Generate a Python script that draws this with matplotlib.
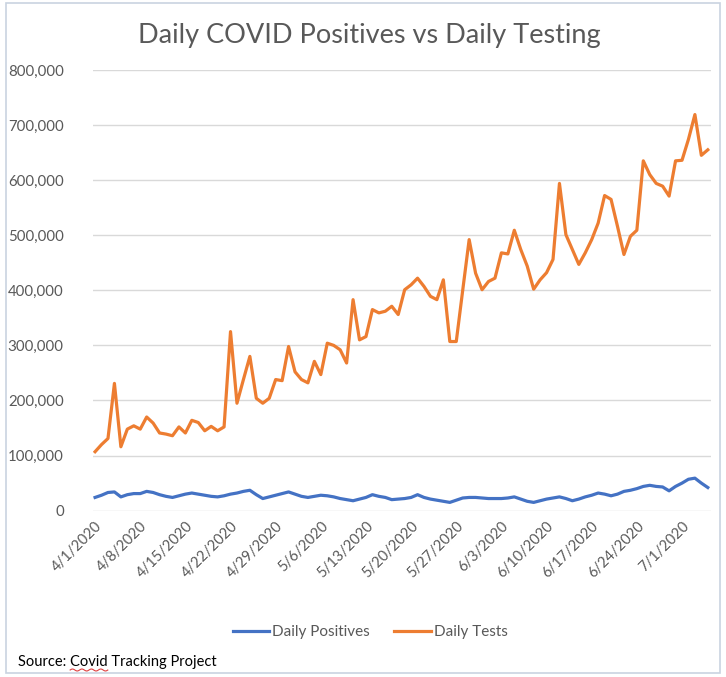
import numpy as np
import pandas as pd
import matplotlib.pyplot as plt
import matplotlib.ticker as mticker
from matplotlib.patches import Rectangle
from matplotlib.lines import Line2D

# 数据: 2020/4/1 - 2020/7/5 每日数据 (单位: 千)
dates = pd.date_range('2020-04-01', '2020-07-05', freq='D')
daily_positives_k = [24, 28, 33, 34, 25, 29, 31, 31, 35, 33,
                     29, 26, 24, 27, 30, 32, 30, 28, 26, 25,
                     27, 30, 32, 35, 37, 29, 22, 25, 28, 31,
                     34, 30, 26, 24, 26, 28, 27, 25, 22, 20,
                     18, 21, 24, 29, 26, 24, 20, 21, 22, 24,
                     29, 24, 21, 19, 17, 15, 19, 23, 24, 24,
                     23, 22, 22, 22, 23, 25, 21, 17, 15, 18,
                     21, 23, 25, 22, 18, 21, 25, 28, 32, 30,
                     27, 30, 35, 37, 40, 44, 46, 44, 43, 36,
                     44, 50, 57, 59, 50, 42]
daily_tests_k = [107, 120, 131, 231, 116, 148, 154, 148, 170, 159,
                 141, 139, 136, 152, 141, 164, 160, 145, 153, 145,
                 152, 325, 195, 238, 280, 204, 195, 204, 238, 236,
                 298, 252, 238, 232, 271, 247, 304, 300, 292, 268,
                 383, 310, 316, 365, 359, 362, 371, 356, 401, 410,
                 422, 407, 389, 383, 419, 307, 307, 400, 492, 431,
                 401, 416, 422, 468, 466, 509, 474, 444, 402, 419,
                 432, 456, 594, 501, 474, 447, 468, 492, 522, 572,
                 565, 516, 465, 498, 509, 635, 610, 594, 589, 571,
                 635, 636, 674, 719, 645, 655]
tick_dates = pd.date_range('2020-04-01', '2020-07-01', freq='7D')

daily_positives = np.array(daily_positives_k) * 1000
daily_tests = np.array(daily_tests_k) * 1000

plt.rcParams['font.family'] = ['Lato', 'DejaVu Sans']
grey_text = '#595959'

fig = plt.figure(figsize=(7.26, 6.77), dpi=100)
ax = fig.add_axes([0.128, 0.2457, 0.851, 0.651])

ax.plot(dates, daily_positives, color='#4472C4', linewidth=2.3, label='Daily Positives')
ax.plot(dates, daily_tests, color='#ED7D31', linewidth=2.3, label='Daily Tests')

# 坐标轴
ax.set_ylim(0, 800000)
ax.set_yticks(np.arange(0, 800001, 100000))
ax.yaxis.set_major_formatter(mticker.StrMethodFormatter('{x:,.0f}'))
ax.set_xlim(dates[0] - pd.Timedelta(hours=8), dates[-1] + pd.Timedelta(hours=11))
ax.set_xticks(tick_dates)
ax.set_xticklabels([f'{d.month}/{d.day}/{d.year}' for d in tick_dates],
                   rotation=45, ha='right', va='top', rotation_mode='anchor')
ax.tick_params(axis='both', length=0, labelsize=10.5, colors=grey_text)
ax.tick_params(axis='y', pad=21, labelsize=10.8)
ax.tick_params(axis='x', pad=6)
ax.grid(axis='y', color='#D9D9D9', linewidth=1)
ax.set_axisbelow(True)
for s in ax.spines.values():
    s.set_visible(False)

# 标题
fig.text(0.509, 1 - 35 / 677, 'Daily COVID Positives vs Daily Testing', ha='center', va='center',
         fontsize=19.5, color=grey_text)

# 图例
ax.legend(loc='center', bbox_to_anchor=(0.51, 1 - 632 / 677), bbox_transform=fig.transFigure,
          ncol=2, frameon=False, fontsize=11, handlelength=2.4, columnspacing=1.6,
          handletextpad=0.2, labelcolor=grey_text)

# 数据来源 (Covid 下方红色拼写波浪线)
src_x, src_y = 0.025, 1 - 662 / 677
fig.text(src_x, src_y, 'Source: Covid Tracking Project', ha='left', va='center',
         fontsize=10.5, color='black')
renderer = fig.canvas.get_renderer()
t1 = fig.text(src_x, src_y, 'Source: ', ha='left', va='center', fontsize=10.5, alpha=0)
t2 = fig.text(src_x, src_y, 'Source: Covid', ha='left', va='center', fontsize=10.5, alpha=0)
x0 = t1.get_window_extent(renderer).x1
x1 = t2.get_window_extent(renderer).x1
y0 = t2.get_window_extent(renderer).y0 - 1
wx = np.linspace(x0, x1, 40)
wy = y0 + 1.0 * np.sin((wx - x0) / 1.5)
fig.lines.append(Line2D(wx / fig.bbox.width, wy / fig.bbox.height, transform=fig.transFigure,
                        color='#E04040', linewidth=0.8))

# 外框
fig.patches.append(Rectangle((0.008, 0.006), 0.984, 0.99, transform=fig.transFigure,
                             fill=False, edgecolor='#C9D3E0', linewidth=1.2))

plt.savefig('out.png', dpi=100)
plt.close()
